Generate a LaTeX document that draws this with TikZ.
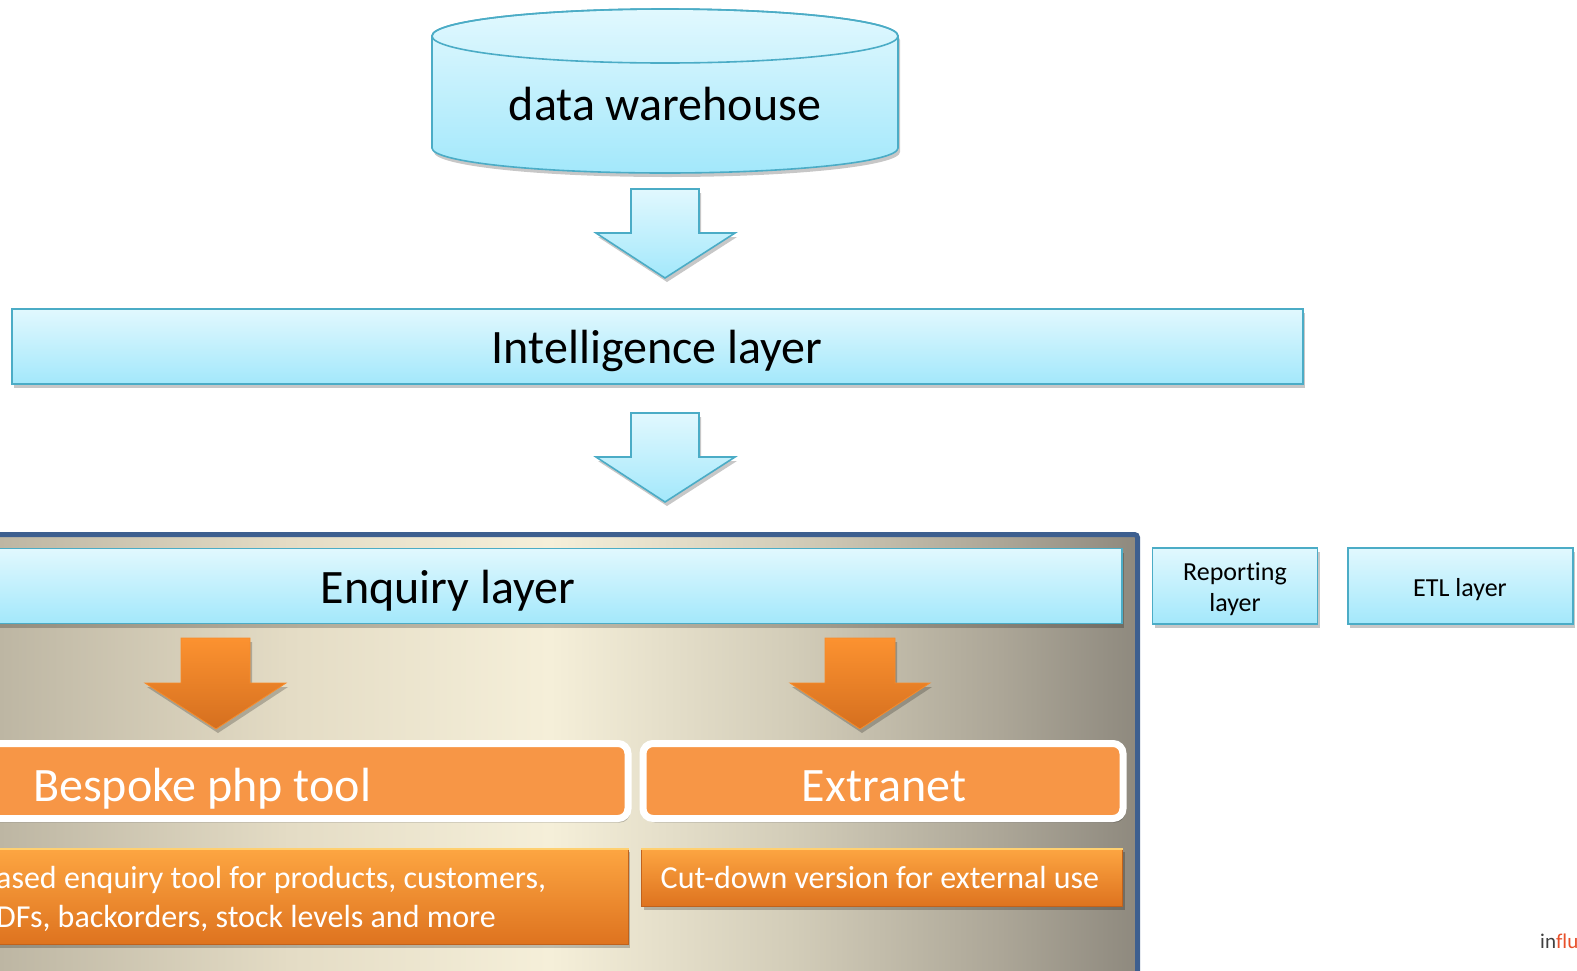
\documentclass[tikz,border=0pt]{standalone}
\usepackage{fontspec}
\setmainfont[Ligatures={NoCommon}]{Carlito}
\definecolor{btop}{HTML}{E1F8FE}
\definecolor{bbot}{HTML}{A3E8FB}
\definecolor{bline}{HTML}{4BACC6}
\definecolor{oflat}{HTML}{F79646}
\definecolor{otop}{HTML}{FDA642}
\definecolor{omid}{HTML}{F78B2A}
\definecolor{obot}{HTML}{DE731F}
\definecolor{oline}{HTML}{C0621C}
\definecolor{ohigh}{HTML}{FFD070}
\definecolor{atop}{HTML}{FC9230}
\definecolor{abot}{HTML}{D56F1F}
\definecolor{pborder}{HTML}{3D5F8F}
\definecolor{inflgray}{HTML}{404040}
\definecolor{inflred}{HTML}{E8502A}
\definecolor{pc0}{HTML}{A9A392}
\definecolor{pc1}{HTML}{BDB6A3}
\definecolor{pc2}{HTML}{E4DCC5}
\definecolor{pc3}{HTML}{F5EFD9}
\definecolor{pc4}{HTML}{D2CCB8}
\definecolor{pc5}{HTML}{ACA697}
\definecolor{pc6}{HTML}{8E897E}
\pgfdeclarehorizontalshading{panelh}{100bp}{color(0bp)=(pc0); color(25bp)=(pc0); color(33.4bp)=(pc1); color(44bp)=(pc2); color(53.5bp)=(pc3); color(62.5bp)=(pc4); color(70bp)=(pc5); color(75bp)=(pc6); color(100bp)=(pc6)}
\tikzset{
  shadowed/.style={preaction={fill=black, opacity=0.22, transform canvas={xshift=2pt,yshift=-4pt}}},
  bluebox/.style={draw=bline, line width=1.6pt, top color=btop, bottom color=bbot, shadowed, inner sep=0pt},
  bluearrow/.style={draw=bline, line width=1.6pt, top color=btop, bottom color=bbot, shadowed},
  orangearrow/.style={draw=omid, line width=0.8pt, top color=atop, bottom color=abot, shadowed},
  whitebox/.style={draw=white, line width=7pt, fill=oflat, rounded corners=10pt, shadowed, inner sep=0pt},
  descbox/.style={draw=oline, line width=1pt, top color=otop, middle color=omid, bottom color=obot, shadowed, inner sep=0pt},
  bigtext/.style={font=\fontsize{48}{56}\selectfont, inner sep=0pt, anchor=base},
  desctext/.style={font=\fontsize{32}{37}\selectfont, text=white, inner sep=0pt},
  smalltext/.style={font=\fontsize{26}{31}\selectfont, inner sep=0pt, anchor=base, align=center}
}
\begin{document}
\begin{tikzpicture}[x=1pt,y=-1pt]
\clip (0,0) rectangle (1577,970);
\fill[white] (0,0) rectangle (1577,970);

% panel
\shade[shading=panelh] (-230,533) rectangle (1137.5,1000);
\draw[pborder, line width=5pt, rounded corners=3pt] (-230,534.5) -- (1137.5,534.5) -- (1137.5,1000);

% data warehouse cylinder
\path[bluearrow] (432,36) -- (432,148) arc[start angle=180, end angle=0, x radius=233, y radius=25] -- (898,36) arc[start angle=0, end angle=-180, x radius=233, y radius=27] -- cycle;
\draw[bline, line width=1.6pt] (665,36) ellipse [x radius=233, y radius=27];
\node[bigtext] (dw) at (665,120) {data warehouse};

% blue arrows
\path[bluearrow] (631,189) -- (699,189) -- (699,233) -- (735,233) -- (665,278) -- (596,233) -- (631,233) -- cycle;
\path[bluearrow] (631,413) -- (699,413) -- (699,457) -- (735,457) -- (665,502) -- (596,457) -- (631,457) -- cycle;

% intelligence layer
\node[bluebox, minimum width=1291pt, minimum height=75pt] (intel) at (657.5,346.5) {};
\node[bigtext] (inteltext) at (657,363) {Intelligence layer};

% enquiry layer
\node[bluebox, minimum width=1347pt, minimum height=75pt] (enq) at (448.5,586) {};
\node[bigtext] (enqtext) at (448,603) {Enquiry layer};

% reporting / ETL
\node[bluebox, minimum width=165pt, minimum height=76pt] (rep) at (1235,586) {};
\node[smalltext] (reptext) at (1235,611) {Reporting\\layer};
\node[bluebox, minimum width=225pt, minimum height=76pt] (etl) at (1460.5,586) {};
\node[smalltext] (etltext) at (1460,596) {ETL layer};

% orange arrows
\path[orangearrow] (181,638) -- (250,638) -- (250,683) -- (286,683) -- (216,729) -- (145,683) -- (181,683) -- cycle;
\path[orangearrow] (825,638) -- (895,638) -- (895,683) -- (930,683) -- (860,729) -- (790,683) -- (825,683) -- cycle;

% tool boxes
\node[whitebox, minimum width=858pt, minimum height=75pt] (php) at (199,781) {};
\node[bigtext, anchor=base west, text=white] (phptext) at (33,801) {Bespoke php tool};
\node[whitebox, minimum width=480pt, minimum height=75pt] (extra) at (883,781) {};
\node[bigtext, text=white] (extratext) at (884,801) {Extranet};

% description boxes
\node[descbox, minimum width=858pt, minimum height=96pt] (phpdesc) at (199,896) {};
\draw[ohigh, line width=2pt] ([yshift=-1.5pt]phpdesc.north west) -- ([yshift=-1.5pt]phpdesc.north east);
\node[desctext, anchor=base west] (phpd1) at (-4,888) {ased enquiry tool for products, customers,};
\node[desctext, anchor=base west] (phpd2) at (-4,927) {DFs, backorders, stock levels and more};
\node[descbox, minimum width=481pt, minimum height=58pt] (extdesc) at (882,877) {};
\draw[ohigh, line width=2pt] ([yshift=-1.5pt]extdesc.north west) -- ([yshift=-1.5pt]extdesc.north east);
\node[desctext, anchor=base] (extd) at (880,888) {Cut-down version for external use};

% logo
\node[font=\fontsize{21}{25}\selectfont, inner sep=0pt, anchor=base west] (infl) at (1540,948) {\textcolor{inflgray}{in}\textcolor{inflred}{flu}};
\end{tikzpicture}
\end{document}
